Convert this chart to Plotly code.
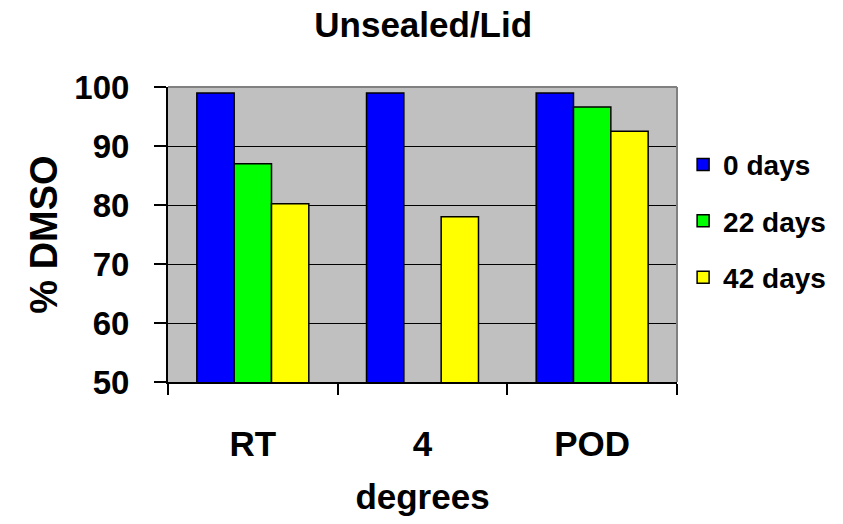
import plotly.graph_objects as go

categories = ["RT", "4", "POD"]
series_names = ["0 days", "22 days", "42 days"]
days0 = [99, 99, 99]
days22 = [87, None, 96.6]
days42 = [80.2, 78, 92.5]
colors = ["#0000FF", "#00FF00", "#FFFF00"]

FONT = "Liberation Sans, Arial, sans-serif"

fig = go.Figure()
for i, (name, vals) in enumerate(zip(series_names, [days0, days22, days42])):
    fig.add_trace(go.Bar(
        x=categories, y=vals, name="<b>" + name + "</b>",
        marker=dict(color=colors[i], line=dict(color="black", width=1.5)),
        legendgroup=name,
    ))

fig.update_layout(
    width=843, height=524,
    margin=dict(l=168, r=166, t=87, b=142),
    paper_bgcolor="white",
    plot_bgcolor="#C0C0C0",
    barmode="group",
    bargap=0.34,
    bargroupgap=0,
    font=dict(family=FONT, color="black"),
    title=dict(text="<b>Unsealed/Lid</b>", x=0.502, xanchor="center",
               y=0.952, yanchor="middle", font=dict(size=35, family=FONT)),
    showlegend=True,
    legend=dict(x=1.012, xanchor="left", y=0.545, yanchor="middle",
                font=dict(size=28, family=FONT), tracegroupgap=17,
                bgcolor="rgba(0,0,0,0)", itemwidth=30),
)

fig.update_xaxes(
    type="category", tickson="boundaries",
    ticks="outside", ticklen=11, tickwidth=1.5, tickcolor="black",
    showline=True, linecolor="black", linewidth=2,
    tickfont=dict(size=35, family=FONT), ticklabelstandoff=30,
    tickprefix="<b>", ticksuffix="</b>",
    title=dict(text="<b>degrees</b>", font=dict(size=35, family=FONT), standoff=22),
    showgrid=False,
)
fig.update_yaxes(
    range=[50, 100], dtick=10, tick0=50,
    ticks="outside", ticklen=12, tickwidth=1.5, tickcolor="black",
    showline=True, linecolor="black", linewidth=2,
    showgrid=True, gridcolor="black", gridwidth=1,
    tickfont=dict(size=33, family=FONT), ticklabelstandoff=18,
    tickprefix="<b>", ticksuffix="</b>",
    title=dict(text="<b>% DMSO</b>", font=dict(size=38, family=FONT), standoff=5),
    zeroline=False,
)

# gray frame on top and right of plot area
fig.add_shape(type="line", xref="x domain", yref="y domain", x0=0, x1=1, y0=1, y1=1,
              line=dict(color="#808080", width=2))
fig.add_shape(type="line", xref="x domain", yref="y domain", x0=1, x1=1, y0=0, y1=1,
              line=dict(color="#808080", width=2))

fig.write_html("out.html")
